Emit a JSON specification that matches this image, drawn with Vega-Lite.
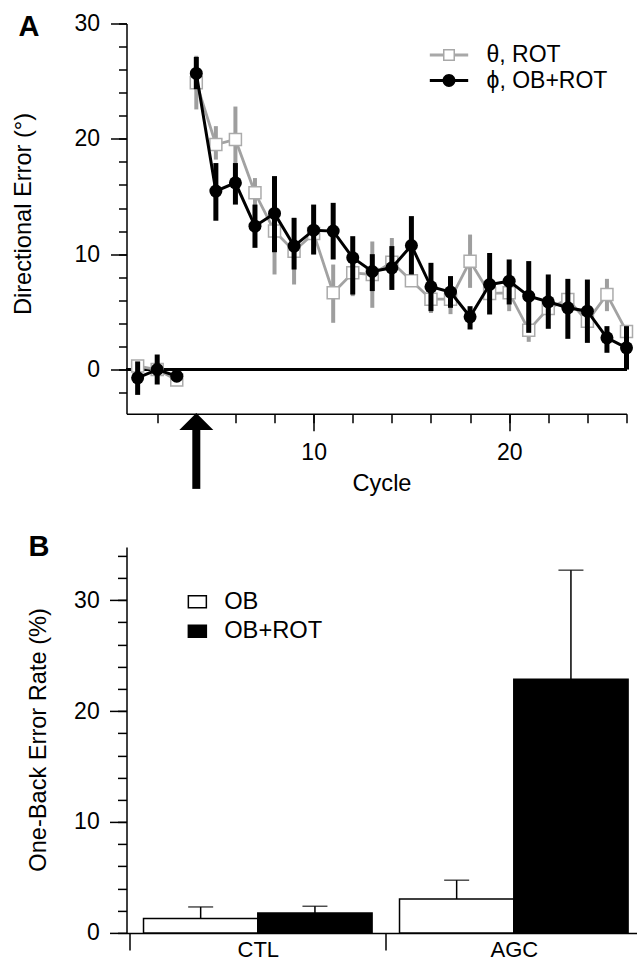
{
  "$schema": "https://vega.github.io/schema/vega-lite/v6.json",
  "padding": {"left": 11.5, "top": 12.5, "right": 0, "bottom": 0},
  "background": "white",
  "bounds": "flush",
  "spacing": 132.4,
  "resolve": {
    "scale": {"fill": "independent", "shape": "independent", "stroke": "independent", "color": "independent"},
    "legend": {"fill": "independent", "shape": "independent", "stroke": "independent"}
  },
  "config": {
    "view": {"stroke": null},
    "font": "Liberation Sans",
    "axis": {"domainColor": "black", "tickColor": "black", "labelColor": "black", "titleColor": "black", "domainWidth": 1.5, "tickWidth": 1.5, "grid": false, "titleFontWeight": "normal", "labelFont": "Liberation Sans", "titleFont": "Liberation Sans"},
    "legend": {"labelFont": "Liberation Sans", "labelColor": "black"},
    "title": {"font": "Liberation Sans", "color": "black"}
  },
  "datasets": {
    "errors": [
      {"cycle": 1, "series": "θ, ROT", "phase": "pre", "mean": 0.3, "lo": -0.3, "hi": 0.8},
      {"cycle": 2, "series": "θ, ROT", "phase": "pre", "mean": 0.0, "lo": -0.5, "hi": 0.5},
      {"cycle": 3, "series": "θ, ROT", "phase": "pre", "mean": -0.9, "lo": -1.2, "hi": -0.6},
      {"cycle": 4, "series": "θ, ROT", "phase": "post", "mean": 24.87, "lo": 22.55, "hi": 27.2},
      {"cycle": 5, "series": "θ, ROT", "phase": "post", "mean": 19.51, "lo": 18.2, "hi": 21.1},
      {"cycle": 6, "series": "θ, ROT", "phase": "post", "mean": 19.95, "lo": 17.35, "hi": 22.8},
      {"cycle": 7, "series": "θ, ROT", "phase": "post", "mean": 15.32, "lo": 14.2, "hi": 16.6},
      {"cycle": 8, "series": "θ, ROT", "phase": "post", "mean": 12.0, "lo": 8.24, "hi": 13.3},
      {"cycle": 9, "series": "θ, ROT", "phase": "post", "mean": 10.26, "lo": 7.37, "hi": 13.15},
      {"cycle": 10, "series": "θ, ROT", "phase": "post", "mean": 11.8, "lo": 10.0, "hi": 12.8},
      {"cycle": 11, "series": "θ, ROT", "phase": "post", "mean": 6.65, "lo": 4.05, "hi": 9.1},
      {"cycle": 12, "series": "θ, ROT", "phase": "post", "mean": 8.38, "lo": 6.36, "hi": 10.1},
      {"cycle": 13, "series": "θ, ROT", "phase": "post", "mean": 8.24, "lo": 5.35, "hi": 11.1},
      {"cycle": 14, "series": "θ, ROT", "phase": "post", "mean": 9.3, "lo": 7.2, "hi": 11.4},
      {"cycle": 15, "series": "θ, ROT", "phase": "post", "mean": 7.7, "lo": 7.2, "hi": 8.2},
      {"cycle": 16, "series": "θ, ROT", "phase": "post", "mean": 6.1, "lo": 4.9, "hi": 6.9},
      {"cycle": 17, "series": "θ, ROT", "phase": "post", "mean": 6.1, "lo": 4.8, "hi": 7.4},
      {"cycle": 18, "series": "θ, ROT", "phase": "post", "mean": 9.39, "lo": 7.08, "hi": 11.7},
      {"cycle": 19, "series": "θ, ROT", "phase": "post", "mean": 6.6, "lo": 5.4, "hi": 7.6},
      {"cycle": 20, "series": "θ, ROT", "phase": "post", "mean": 6.65, "lo": 5.06, "hi": 8.0},
      {"cycle": 21, "series": "θ, ROT", "phase": "post", "mean": 3.41, "lo": 2.4, "hi": 4.9},
      {"cycle": 22, "series": "θ, ROT", "phase": "post", "mean": 5.3, "lo": 4.6, "hi": 6.0},
      {"cycle": 23, "series": "θ, ROT", "phase": "post", "mean": 6.07, "lo": 5.2, "hi": 6.9},
      {"cycle": 24, "series": "θ, ROT", "phase": "post", "mean": 4.19, "lo": 3.5, "hi": 4.9},
      {"cycle": 25, "series": "θ, ROT", "phase": "post", "mean": 6.5, "lo": 5.06, "hi": 7.86},
      {"cycle": 26, "series": "θ, ROT", "phase": "post", "mean": 3.3, "lo": 2.8, "hi": 3.76},
      {"cycle": 1, "series": "ϕ, OB+ROT", "phase": "pre", "mean": -0.72, "lo": -2.2, "hi": 0.7},
      {"cycle": 2, "series": "ϕ, OB+ROT", "phase": "pre", "mean": 0.0, "lo": -1.3, "hi": 1.3},
      {"cycle": 3, "series": "ϕ, OB+ROT", "phase": "pre", "mean": -0.58, "lo": -0.9, "hi": -0.3},
      {"cycle": 4, "series": "ϕ, OB+ROT", "phase": "post", "mean": 25.67, "lo": 24.3, "hi": 27.1},
      {"cycle": 5, "series": "ϕ, OB+ROT", "phase": "post", "mean": 15.47, "lo": 12.9, "hi": 17.9},
      {"cycle": 6, "series": "ϕ, OB+ROT", "phase": "post", "mean": 16.19, "lo": 14.3, "hi": 17.9},
      {"cycle": 7, "series": "ϕ, OB+ROT", "phase": "post", "mean": 12.43, "lo": 10.55, "hi": 14.3},
      {"cycle": 8, "series": "ϕ, OB+ROT", "phase": "post", "mean": 13.53, "lo": 10.17, "hi": 16.77},
      {"cycle": 9, "series": "ϕ, OB+ROT", "phase": "post", "mean": 10.7, "lo": 8.67, "hi": 13.15},
      {"cycle": 10, "series": "ϕ, OB+ROT", "phase": "post", "mean": 12.08, "lo": 9.97, "hi": 14.3},
      {"cycle": 11, "series": "ϕ, OB+ROT", "phase": "post", "mean": 12.0, "lo": 9.54, "hi": 14.45},
      {"cycle": 12, "series": "ϕ, OB+ROT", "phase": "post", "mean": 9.69, "lo": 6.5, "hi": 11.56},
      {"cycle": 13, "series": "ϕ, OB+ROT", "phase": "post", "mean": 8.5, "lo": 6.8, "hi": 10.0},
      {"cycle": 14, "series": "ϕ, OB+ROT", "phase": "post", "mean": 8.82, "lo": 6.9, "hi": 10.7},
      {"cycle": 15, "series": "ϕ, OB+ROT", "phase": "post", "mean": 10.75, "lo": 8.24, "hi": 13.3},
      {"cycle": 16, "series": "ϕ, OB+ROT", "phase": "post", "mean": 7.17, "lo": 5.06, "hi": 9.25},
      {"cycle": 17, "series": "ϕ, OB+ROT", "phase": "post", "mean": 6.71, "lo": 5.35, "hi": 8.1},
      {"cycle": 18, "series": "ϕ, OB+ROT", "phase": "post", "mean": 4.57, "lo": 3.47, "hi": 5.49},
      {"cycle": 19, "series": "ϕ, OB+ROT", "phase": "post", "mean": 7.37, "lo": 4.77, "hi": 10.1},
      {"cycle": 20, "series": "ϕ, OB+ROT", "phase": "post", "mean": 7.66, "lo": 5.64, "hi": 9.54},
      {"cycle": 21, "series": "ϕ, OB+ROT", "phase": "post", "mean": 6.36, "lo": 3.18, "hi": 9.4},
      {"cycle": 22, "series": "ϕ, OB+ROT", "phase": "post", "mean": 5.87, "lo": 3.53, "hi": 8.24},
      {"cycle": 23, "series": "ϕ, OB+ROT", "phase": "post", "mean": 5.35, "lo": 2.66, "hi": 7.86},
      {"cycle": 24, "series": "ϕ, OB+ROT", "phase": "post", "mean": 5.06, "lo": 2.31, "hi": 7.8},
      {"cycle": 25, "series": "ϕ, OB+ROT", "phase": "post", "mean": 2.75, "lo": 1.45, "hi": 3.76},
      {"cycle": 26, "series": "ϕ, OB+ROT", "phase": "post", "mean": 1.88, "lo": 0.0, "hi": 3.76}
    ],
    "onset": [{"cycle": 4, "event": "rotation onset"}],
    "rates": [
      {"group": "CTL", "task": "OB", "rate": 1.3, "upper": 2.34},
      {"group": "CTL", "task": "OB+ROT", "rate": 1.8, "upper": 2.4},
      {"group": "AGC", "task": "OB", "rate": 3.06, "upper": 4.75},
      {"group": "AGC", "task": "OB+ROT", "rate": 22.86, "upper": 32.7}
    ]
  },
  "vconcat": [
    {
      "width": 500,
      "height": 390.3,
      "title": {"text": "A", "anchor": "start", "frame": "group", "orient": "top", "offset": -52.7, "dx": -108, "fontSize": 29, "fontWeight": "bold", "baseline": "alphabetic"},
      "resolve": {"axis": {"x": "independent", "y": "independent"}},
      "layer": [
        {
          "data": {"name": "errors"},
          "mark": {"type": "rule", "color": "black", "strokeWidth": 1.5},
          "encoding": {
            "y": {"datum": 0, "type": "quantitative", "axis": null}
          }
        },
        {
          "data": {"name": "errors"},
          "transform": [{"filter": {"field": "series", "equal": "θ, ROT"}}],
          "mark": {"type": "rule", "color": "#9e9e9e", "strokeWidth": 4},
          "encoding": {
            "x": {"field": "cycle", "type": "quantitative", "scale": {"domain": [0.43, 26], "nice": false, "zero": false},
              "axis": {"orient": "bottom", "values": [2, 4, 6, 8, 10, 12, 14, 16, 18, 20, 22, 24, 26], "tickSize": 9, "labels": false, "domain": true, "title": null}},
            "y": {"field": "lo", "type": "quantitative", "scale": {"domain": [-3.84, 30], "nice": false, "zero": false},
              "axis": {"orient": "left", "values": [-2, 0, 2, 4, 6, 8, 10, 12, 14, 16, 18, 20, 22, 24, 26, 28, 30], "tickSize": 8, "labels": false, "domain": true, "title": null}},
            "y2": {"field": "hi"}
          }
        },
        {
          "data": {"name": "errors"},
          "transform": [{"filter": {"field": "series", "equal": "θ, ROT"}}],
          "mark": {"type": "line", "color": "#a2a2a2", "strokeWidth": 2.8},
          "encoding": {
            "x": {"field": "cycle", "type": "quantitative",
              "axis": {"orient": "bottom", "values": [10, 20], "tickSize": 17, "labelFontSize": 23, "labelPadding": 10.3, "domain": false, "title": "Cycle", "titleFontSize": 23.6, "titleX": 255, "titleY": 58, "titleBaseline": "top", "titleAlign": "center"}},
            "y": {"field": "mean", "type": "quantitative",
              "axis": {"orient": "left", "values": [0, 10, 20, 30], "tickSize": 16, "labelFontSize": 23, "labelPadding": 11, "domain": false, "title": "Directional Error (°)", "titleFontSize": 23.6, "titleX": -103, "titleY": 190, "titleAngle": 270, "titleAlign": "center", "titleBaseline": "middle"}},
            "detail": {"field": "phase"}
          }
        },
        {
          "data": {"name": "errors"},
          "transform": [{"filter": {"field": "series", "equal": "θ, ROT"}}],
          "mark": {"type": "point", "shape": "square", "size": 144, "filled": true, "fill": "white", "stroke": "#ababab", "strokeWidth": 1.5, "opacity": 1},
          "encoding": {
            "x": {"field": "cycle", "type": "quantitative", "axis": null},
            "y": {"field": "mean", "type": "quantitative", "axis": null}
          }
        },
        {
          "data": {"name": "errors"},
          "transform": [{"filter": {"field": "series", "equal": "ϕ, OB+ROT"}}],
          "mark": {"type": "rule", "color": "black", "strokeWidth": 5},
          "encoding": {
            "x": {"field": "cycle", "type": "quantitative", "axis": null},
            "y": {"field": "lo", "type": "quantitative", "axis": null},
            "y2": {"field": "hi"}
          }
        },
        {
          "data": {"name": "errors"},
          "transform": [{"filter": {"field": "series", "equal": "ϕ, OB+ROT"}}],
          "mark": {"type": "line", "color": "black", "strokeWidth": 3},
          "encoding": {
            "x": {"field": "cycle", "type": "quantitative", "axis": null},
            "y": {"field": "mean", "type": "quantitative", "axis": null},
            "detail": {"field": "phase"}
          }
        },
        {
          "data": {"name": "errors"},
          "transform": [{"filter": {"field": "series", "equal": "ϕ, OB+ROT"}}],
          "mark": {"type": "point", "shape": "circle", "size": 169, "filled": true, "color": "black", "opacity": 1},
          "encoding": {
            "x": {"field": "cycle", "type": "quantitative", "axis": null},
            "y": {"field": "mean", "type": "quantitative", "axis": null}
          }
        },
        {
          "data": {"name": "errors"},
          "mark": {"type": "point", "filled": true, "size": 144, "opacity": 0, "strokeWidth": 0},
          "encoding": {
            "x": {"field": "cycle", "type": "quantitative", "axis": null},
            "y": {"field": "mean", "type": "quantitative", "axis": null},
            "shape": {"field": "series", "type": "nominal",
              "scale": {"domain": ["θ, ROT", "ϕ, OB+ROT"], "range": ["M-3.2,-0.25H-1V0.25H-3.2Z M1,-0.25H3.2V0.25H1Z M-1,-1H1V1H-1Z M-0.75,-0.75V0.75H0.75V-0.75Z", "M-3.2,-0.27H3.2V0.27H-3.2Z M-1.08,0A1.08,1.08,0,1,1,1.08,0A1.08,1.08,0,1,1,-1.08,0Z"]},
              "legend": {"orient": "none", "legendX": 311, "legendY": 20, "title": null, "padding": 0, "symbolSize": 144, "symbolOpacity": 1, "symbolStrokeWidth": 0, "labelFontSize": 23, "labelOffset": 26, "rowPadding": 1.5}},
            "fill": {"field": "series", "type": "nominal",
              "scale": {"domain": ["θ, ROT", "ϕ, OB+ROT"], "range": ["#a8a8a8", "black"]},
              "legend": {"orient": "none", "legendX": 311, "legendY": 20, "title": null, "padding": 0, "symbolSize": 144, "symbolOpacity": 1, "symbolStrokeWidth": 0, "labelFontSize": 23, "labelOffset": 26, "rowPadding": 1.5}}
          }
        },
        {
          "data": {"name": "onset"},
          "mark": {"type": "rule", "color": "black", "strokeWidth": 8, "strokeCap": "butt"},
          "encoding": {
            "x": {"field": "cycle", "type": "quantitative", "axis": null},
            "y": {"datum": -5.0, "type": "quantitative", "axis": null},
            "y2": {"datum": -10.35}
          }
        },
        {
          "data": {"name": "onset"},
          "mark": {"type": "point", "shape": "M0,0L1,1L-1,1Z", "size": 1156, "filled": true, "color": "black", "strokeWidth": 0, "opacity": 1},
          "encoding": {
            "x": {"field": "cycle", "type": "quantitative", "axis": null},
            "y": {"datum": -3.76, "type": "quantitative", "axis": null}
          }
        }
      ]
    },
    {
      "width": 518.6,
      "height": 386,
      "title": {"text": "B", "anchor": "start", "frame": "group", "orient": "top", "offset": -38.3, "dx": -98, "fontSize": 29, "fontWeight": "bold", "baseline": "alphabetic"},
      "data": {"name": "rates"},
      "resolve": {"axis": {"y": "independent"}},
      "layer": [
        {
          "mark": {"type": "bar", "stroke": "black", "strokeWidth": 1.5},
          "encoding": {
            "x": {"field": "group", "type": "nominal", "sort": ["CTL", "AGC"], "scale": {"paddingInner": 0, "paddingOuter": 0.0129},
              "axis": {"orient": "bottom", "tickBand": "extent", "tickSize": 17, "labelFontSize": 22, "labelPadding": -10, "labelAngle": 0, "title": null, "domain": true}},
            "xOffset": {"field": "task", "type": "nominal", "sort": ["OB", "OB+ROT"], "scale": {"paddingInner": 0, "paddingOuter": 0.12}},
            "y": {"field": "rate", "type": "quantitative", "scale": {"domain": [0, 34.8], "nice": false},
              "axis": {"orient": "left", "values": [0, 2, 4, 6, 8, 10, 12, 14, 16, 18, 20, 22, 24, 26, 28, 30, 32, 34], "tickSize": 9, "labels": false, "domain": true, "title": null}},
            "fill": {"field": "task", "type": "nominal", "sort": ["OB", "OB+ROT"], "scale": {"domain": ["OB", "OB+ROT"], "range": ["white", "black"]},
              "legend": {"orient": "none", "legendX": 59, "legendY": 43, "title": null, "padding": 0, "symbolType": "M-1.5,-1H1.5V1H-1.5Z", "symbolSize": 144, "symbolStrokeColor": "black", "symbolStrokeWidth": 1.5, "symbolOpacity": 1, "labelFontSize": 23.7, "labelOffset": 15, "rowPadding": 4.6}}
          }
        },
        {
          "mark": {"type": "rule", "color": "black", "strokeWidth": 1.5},
          "encoding": {
            "x": {"field": "group", "type": "nominal", "sort": ["CTL", "AGC"]},
            "xOffset": {"field": "task", "type": "nominal", "sort": ["OB", "OB+ROT"]},
            "y": {"field": "rate", "type": "quantitative",
              "axis": {"orient": "left", "values": [0, 10, 20, 30], "tickSize": 17, "labelFontSize": 23, "labelPadding": 10.3, "domain": false, "title": "One-Back Error Rate (%)", "titleFontSize": 23.6, "titleX": -88.5, "titleY": 192.5, "titleAngle": 270, "titleAlign": "center", "titleBaseline": "middle"}},
            "y2": {"field": "upper"}
          }
        },
        {
          "mark": {"type": "tick", "color": "black", "size": 25, "thickness": 1.5, "orient": "horizontal"},
          "encoding": {
            "x": {"field": "group", "type": "nominal", "sort": ["CTL", "AGC"]},
            "xOffset": {"field": "task", "type": "nominal", "sort": ["OB", "OB+ROT"]},
            "y": {"field": "upper", "type": "quantitative", "axis": null}
          }
        }
      ]
    }
  ]
}
